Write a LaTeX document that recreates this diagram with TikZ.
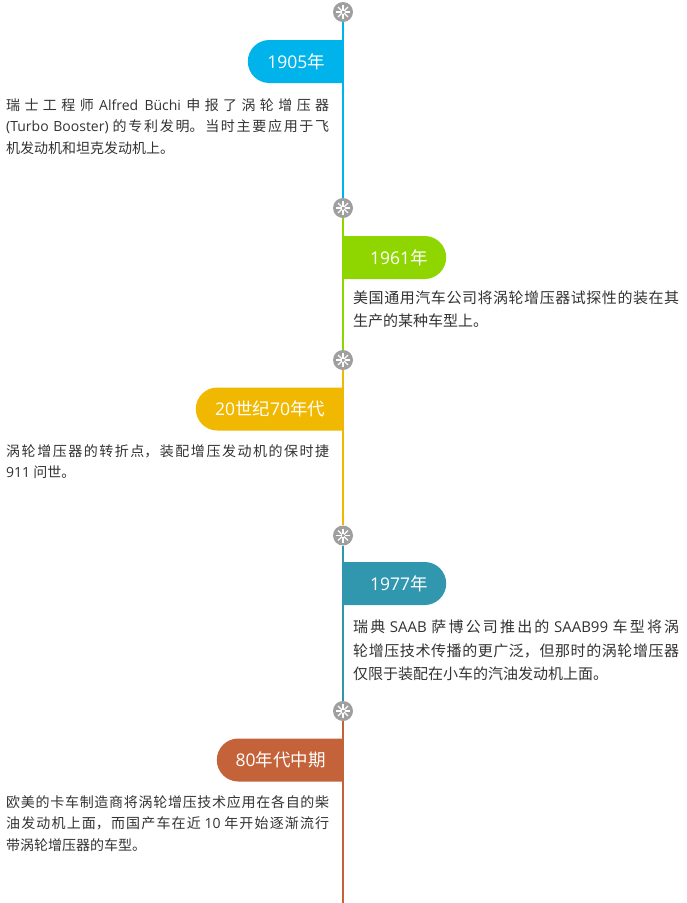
\documentclass[tikz,border=0pt]{standalone}
\usepackage{fontspec}
\setmainfont{Noto Sans CJK SC}
\newfontfamily\lat{Open Sans}
\usetikzlibrary{positioning}
\usetikzlibrary{shapes.misc}
\XeTeXlinebreaklocale "zh"
\XeTeXlinebreakskip=0pt plus 3pt
\definecolor{tlblue}{HTML}{00B4EB}
\definecolor{tlgreen}{HTML}{8FD600}
\definecolor{tlyellow}{HTML}{F0B800}
\definecolor{tlteal}{HTML}{3197AE}
\definecolor{tlbrown}{HTML}{C4623A}
\definecolor{tltext}{HTML}{333333}
\tikzset{dot/.style = {circle, fill=gray!75, inner sep = 0, minimum size = 20}}
\tikzset{spoke/.style = {white, line width = 1.1}}
\tikzset{seg/.style = {line width = 2.5}}
\tikzset{tab/.style = {rounded rectangle, inner sep = 0, minimum height = 43,
                       text = white, font = \fontsize{17.5}{20}\selectfont}}
\tikzset{tabL/.style = {tab, rounded rectangle right arc = none, anchor = east}}
\tikzset{tabR/.style = {tab, rounded rectangle left arc = none, anchor = west,
                        execute at begin node = \hspace*{10pt}}}
\tikzset{bodyL/.style = {anchor = base west, inner sep = 0, align = justify, text = tltext,
                         text width = 323, font = \fontsize{14}{21.5}\selectfont}}
\tikzset{bodyR/.style = {anchor = base west, inner sep = 0, align = justify, text = tltext,
                         text width = 326, font = \fontsize{15}{23.5}\selectfont}}
\begin{document}
\begin{tikzpicture}[x=1pt, y=-1pt]
      \useasboundingbox[fill=white] (0, 0) rectangle (687, 903);

      \node[dot] (d1) at (343, 12) {};
      \node[dot] (d2) at (343, 208) {};
      \node[dot] (d3) at (343, 360) {};
      \node[dot] (d4) at (343, 535.5) {};
      \node[dot] (d5) at (343, 711) {};
      \coordinate (end) at (343, 903);

      \draw[seg, tlblue] (d1) -- (d2);
      \draw[seg, tlgreen] (d2) -- (d3);
      \draw[seg, tlyellow] (d3) -- (d4);
      \draw[seg, tlteal] (d4) -- (d5);
      \draw[seg, tlbrown] (d5) -- (end);

      \foreach \d in {d1, d2, d3, d4, d5}
        \foreach \a in {0, 45, ..., 315}
          \draw[spoke] (\d.center) ++(\a:1.5) -- ++(\a:5.5);

      \node[tabL, fill=tlblue, minimum width=95] (t1) at (343, 61.5) {{\lat 1905}年};
      \node[tabR, fill=tlgreen, minimum width=103] (t2) at (343, 257.5) {{\lat 1961}年};
      \node[tabL, fill=tlyellow, minimum width=147] (t3) at (343, 409) {{\lat 20}世纪{\lat 70}年代};
      \node[tabR, fill=tlteal, minimum width=103] (t4) at (343, 583.5) {{\lat 1977}年};
      \node[tabL, fill=tlbrown, minimum width=126] (t5) at (343, 760) {{\lat 80}年代中期};

      \node[bodyL] (b1) at (6, 110.3) {瑞士工程师 {\lat Alfred Büchi} 申报了涡轮增压器\linebreak
        {\lat (Turbo Booster)} 的专利发明。当时主要应用于飞\linebreak
        机发动机和坦克发动机上。};
      \node[bodyR] (b2) at (353, 303.2) {美国通用汽车公司将涡轮增压器试探性的装在其\linebreak
        生产的某种车型上。};
      \node[bodyL] (b3) at (6, 456.3) {涡轮增压器的转折点，装配增压发动机的保时捷\linebreak
        {\lat 911} 问世。};
      \node[bodyR] (b4) at (353, 632.7) {瑞典 {\lat SAAB} 萨博公司推出的 {\lat SAAB99} 车型将涡\linebreak
        轮增压技术传播的更广泛，但那时的涡轮增压器\linebreak
        仅限于装配在小车的汽油发动机上面。};
      \node[bodyL] (b5) at (6, 807.3) {欧美的卡车制造商将涡轮增压技术应用在各自的柴\linebreak
        油发动机上面，而国产车在近 {\lat 10} 年开始逐渐流行\linebreak
        带涡轮增压器的车型。};
    \end{tikzpicture}
\end{document}
